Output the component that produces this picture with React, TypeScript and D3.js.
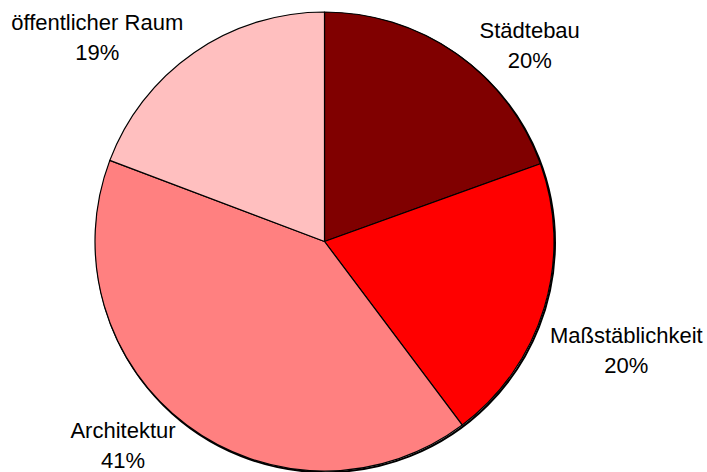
import React from "react";
import * as d3 from "d3";

const categories = ["Städtebau", "Maßstäblichkeit", "Architektur", "öffentlicher Raum"];
const values = [19.5, 20.25, 41.0, 19.25];
const percentLabels = ["20%", "20%", "41%", "19%"];
const colors = ["#800000", "#FF0000", "#FF8080", "#FFBFBF"];

const W = 707;
const H = 472;
const cx = 324.5;
const cy = 241.5;
const R = 229.5;

// label anchor (x center, first-line baseline)
const labelPos: [number, number][] = [
  [529.7, 38.3],
  [626.3, 342.7],
  [123, 438.3],
  [97.2, 30],
];

export default function App() {
  const pie = d3
    .pie<number>()
    .sort(null)
    .value((d) => d)
    .startAngle(0)
    .endAngle(2 * Math.PI);
  const arcs = pie(values);
  const arc = d3.arc<d3.PieArcDatum<number>>().innerRadius(0).outerRadius(R);
  return (
    <svg
      width={W}
      height={H}
      style={{ position: "absolute", left: 0, top: 0 }}
      fontFamily="'Liberation Sans', Arial, sans-serif"
    >
      <rect width={W} height={H} fill="#fff" />
      <g transform={`translate(${cx},${cy})`}>
        <circle cx={1} cy={1.2} r={R} fill="none" stroke="#000" strokeWidth={2} />
        {arcs.map((a, i) => (
          <path key={i} d={arc(a) || ""} fill={colors[i]} stroke="#000" strokeWidth={1.2} strokeLinejoin="round" />
        ))}
      </g>
      {categories.map((c, i) => (
        <text key={c} x={labelPos[i][0]} y={labelPos[i][1]} textAnchor="middle" fontSize={22} fill="#000">
          <tspan x={labelPos[i][0]}>{c}</tspan>
          <tspan x={labelPos[i][0]} dy={29.8}>
            {percentLabels[i]}
          </tspan>
        </text>
      ))}
    </svg>
  );
}
